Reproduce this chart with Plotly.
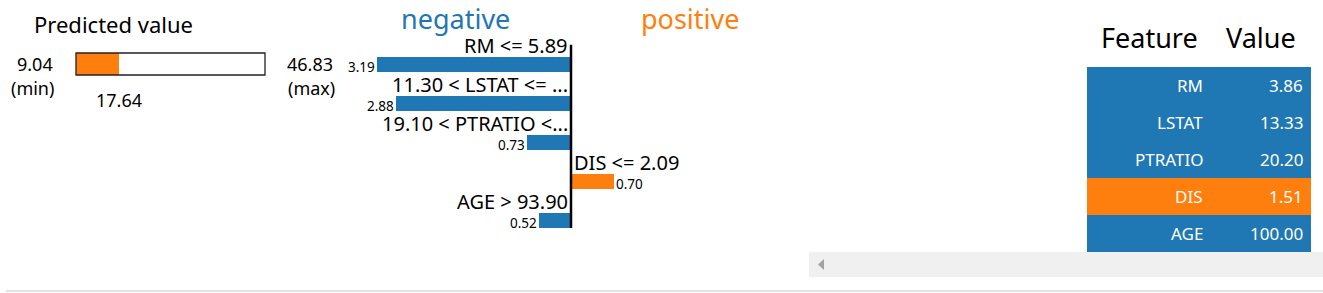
import plotly.graph_objects as go

W, H = 1323, 293
FONT = "Noto Sans"
BLUE = "#1f77b4"
ORANGE = "#ff7f0e"

# ---- data ----
pred_min = 9.04
pred_max = 46.83
pred_value = 17.64

conditions = ["RM <= 5.89", "11.30 < LSTAT <= ...", "19.10 < PTRATIO <...", "DIS <= 2.09", "AGE > 93.90"]
weights = [-3.19, -2.88, -0.73, 0.70, -0.52]
features = ["RM", "LSTAT", "PTRATIO", "DIS", "AGE"]
feature_values = ["3.86", "13.33", "20.20", "1.51", "100.00"]
table_header = ["Feature", "Value"]


def px(x):
    return x / W


def py(y):
    return 1 - y / H


fig = go.Figure()

# ---- predicted value bar ----
fig.add_trace(go.Bar(x=[pred_value - pred_min], base=[pred_min], y=[0], orientation="h",
                     marker=dict(color=ORANGE, line=dict(width=0)), width=1,
                     xaxis="x", yaxis="y", showlegend=False, hoverinfo="skip"))

# ---- explanation bars ----
ys = list(range(len(weights)))
colors = [ORANGE if w > 0 else BLUE for w in weights]
fig.add_trace(go.Bar(x=weights, y=ys, orientation="h",
                     marker=dict(color=colors, line=dict(width=0)), width=0.36,
                     xaxis="x2", yaxis="y2", showlegend=False, hoverinfo="skip"))

# ---- feature/value table: one coloured row per feature ----
fig.add_trace(go.Bar(x=[1] * len(features), base=[0] * len(features), y=ys, orientation="h",
                     marker=dict(color=colors, line=dict(width=0)), width=1,
                     xaxis="x3", yaxis="y3", showlegend=False, hoverinfo="skip"))

# axis geometry (pixels)
scale = 60.8  # px per unit
x0_px = 571
d2_left, d2_right = 340, 800
top2, bot2 = 44.5, 239.5
tab_left, tab_split, tab_right = 1087, 1211, 1311
tab_top, tab_bot = 67, 252

fig.update_layout(
    width=W, height=H, margin=dict(l=0, r=0, t=0, b=0),
    paper_bgcolor="white", plot_bgcolor="rgba(0,0,0,0)",
    font=dict(family=FONT, color="black"),
    bargap=0,
    xaxis=dict(domain=[px(76), px(265)], range=[pred_min, pred_max], visible=False, fixedrange=True),
    yaxis=dict(domain=[py(75), py(53)], range=[-0.5, 0.5], visible=False, fixedrange=True),
    xaxis2=dict(domain=[px(d2_left), px(d2_right)],
                range=[-(x0_px - d2_left) / scale, (d2_right - x0_px) / scale],
                visible=False, fixedrange=True, anchor="y2"),
    yaxis2=dict(domain=[py(bot2), py(top2)], range=[4.5, -0.5], visible=False,
                fixedrange=True, anchor="x2"),
    xaxis3=dict(domain=[px(tab_left), px(tab_right)], range=[0, 1], visible=False,
                fixedrange=True, anchor="y3"),
    yaxis3=dict(domain=[py(tab_bot), py(tab_top)], range=[4.5, -0.5], visible=False,
                fixedrange=True, anchor="x3"),
)

shapes = []
# border of prediction bar
shapes.append(dict(type="rect", xref="x domain", yref="y domain", x0=0, x1=1, y0=0, y1=1,
                   line=dict(color="#222", width=1.3), fillcolor="rgba(0,0,0,0)"))
# zero line
shapes.append(dict(type="line", xref="x2", yref="y2", x0=0, x1=0, y0=-0.5,
                   y1=(228 - top2) / 39 - 0.5, line=dict(color="black", width=2.5)))
# scrollbar & bottom rule (notebook chrome)
shapes.append(dict(type="rect", xref="paper", yref="paper", x0=px(809), x1=px(1323),
                   y0=py(277), y1=py(252), fillcolor="#f0f0f0", line=dict(width=0), layer="below"))
shapes.append(dict(type="path", xref="paper", yref="paper",
                   path=f"M {px(824)} {py(259)} L {px(818)} {py(264.5)} L {px(824)} {py(270)} Z",
                   fillcolor="#a3a3a3", line=dict(width=0)))
shapes.append(dict(type="rect", xref="paper", yref="paper", x0=px(6), x1=px(1323),
                   y0=py(292), y1=py(290), fillcolor="#e3e3e3", line=dict(width=0)))
fig.update_layout(shapes=shapes)

ann = []


def text(x, y, s, size, color="black", xanchor="center"):
    ann.append(dict(x=px(x), y=py(y), xref="paper", yref="paper", text=s, showarrow=False,
                    borderpad=0, xanchor=xanchor, yanchor="middle",
                    font=dict(family=FONT, size=size, color=color)))


text(113, 24, "Predicted value", 22)
text(35, 64, f"{pred_min:.2f}", 18)
text(32, 88, "(min)", 18)
text(310, 64, f"{pred_max:.2f}", 18)
text(311, 88, "(max)", 18)
ann.append(dict(x=pred_value, y=py(100), xref="x", yref="paper", text=f"{pred_value:.2f}",
                showarrow=False, borderpad=0, xanchor="center", yanchor="middle",
                font=dict(family=FONT, size=18)))
text(455, 18.6, "negative", 27, BLUE)
text(690, 18.6, "positive", 27, ORANGE)

for i, (c, w) in enumerate(zip(conditions, weights)):
    side = "right" if w < 0 else "left"
    ann.append(dict(x=-0.03 if w < 0 else 0.03, y=i - 0.47, xref="x2", yref="y2", text=c,
                    showarrow=False, borderpad=0, xanchor=side, yanchor="middle",
                    font=dict(family=FONT, size=20)))
    ann.append(dict(x=w, y=i + 0.07, xref="x2", yref="y2", text=f"{abs(w):.2f}", showarrow=False,
                    borderpad=0, xanchor=side, yanchor="middle", xshift=-1 if w < 0 else 1,
                    font=dict(family=FONT, size=13.5)))

# table header and cell texts
text((tab_left + tab_split) / 2, 37, table_header[0], 27)
text((tab_split + tab_right) / 2, 37, table_header[1], 27)
for i, (f, v) in enumerate(zip(features, feature_values)):
    ann.append(dict(x=px(tab_split - 7), y=i, xref="paper", yref="y3", text=f, showarrow=False,
                    borderpad=0, xanchor="right", yanchor="middle",
                    font=dict(family=FONT, size=17, color="white")))
    ann.append(dict(x=px(tab_right - 7), y=i, xref="paper", yref="y3", text=v, showarrow=False,
                    borderpad=0, xanchor="right", yanchor="middle",
                    font=dict(family=FONT, size=17, color="white")))

fig.update_layout(annotations=ann)
fig.write_html("out.html")
